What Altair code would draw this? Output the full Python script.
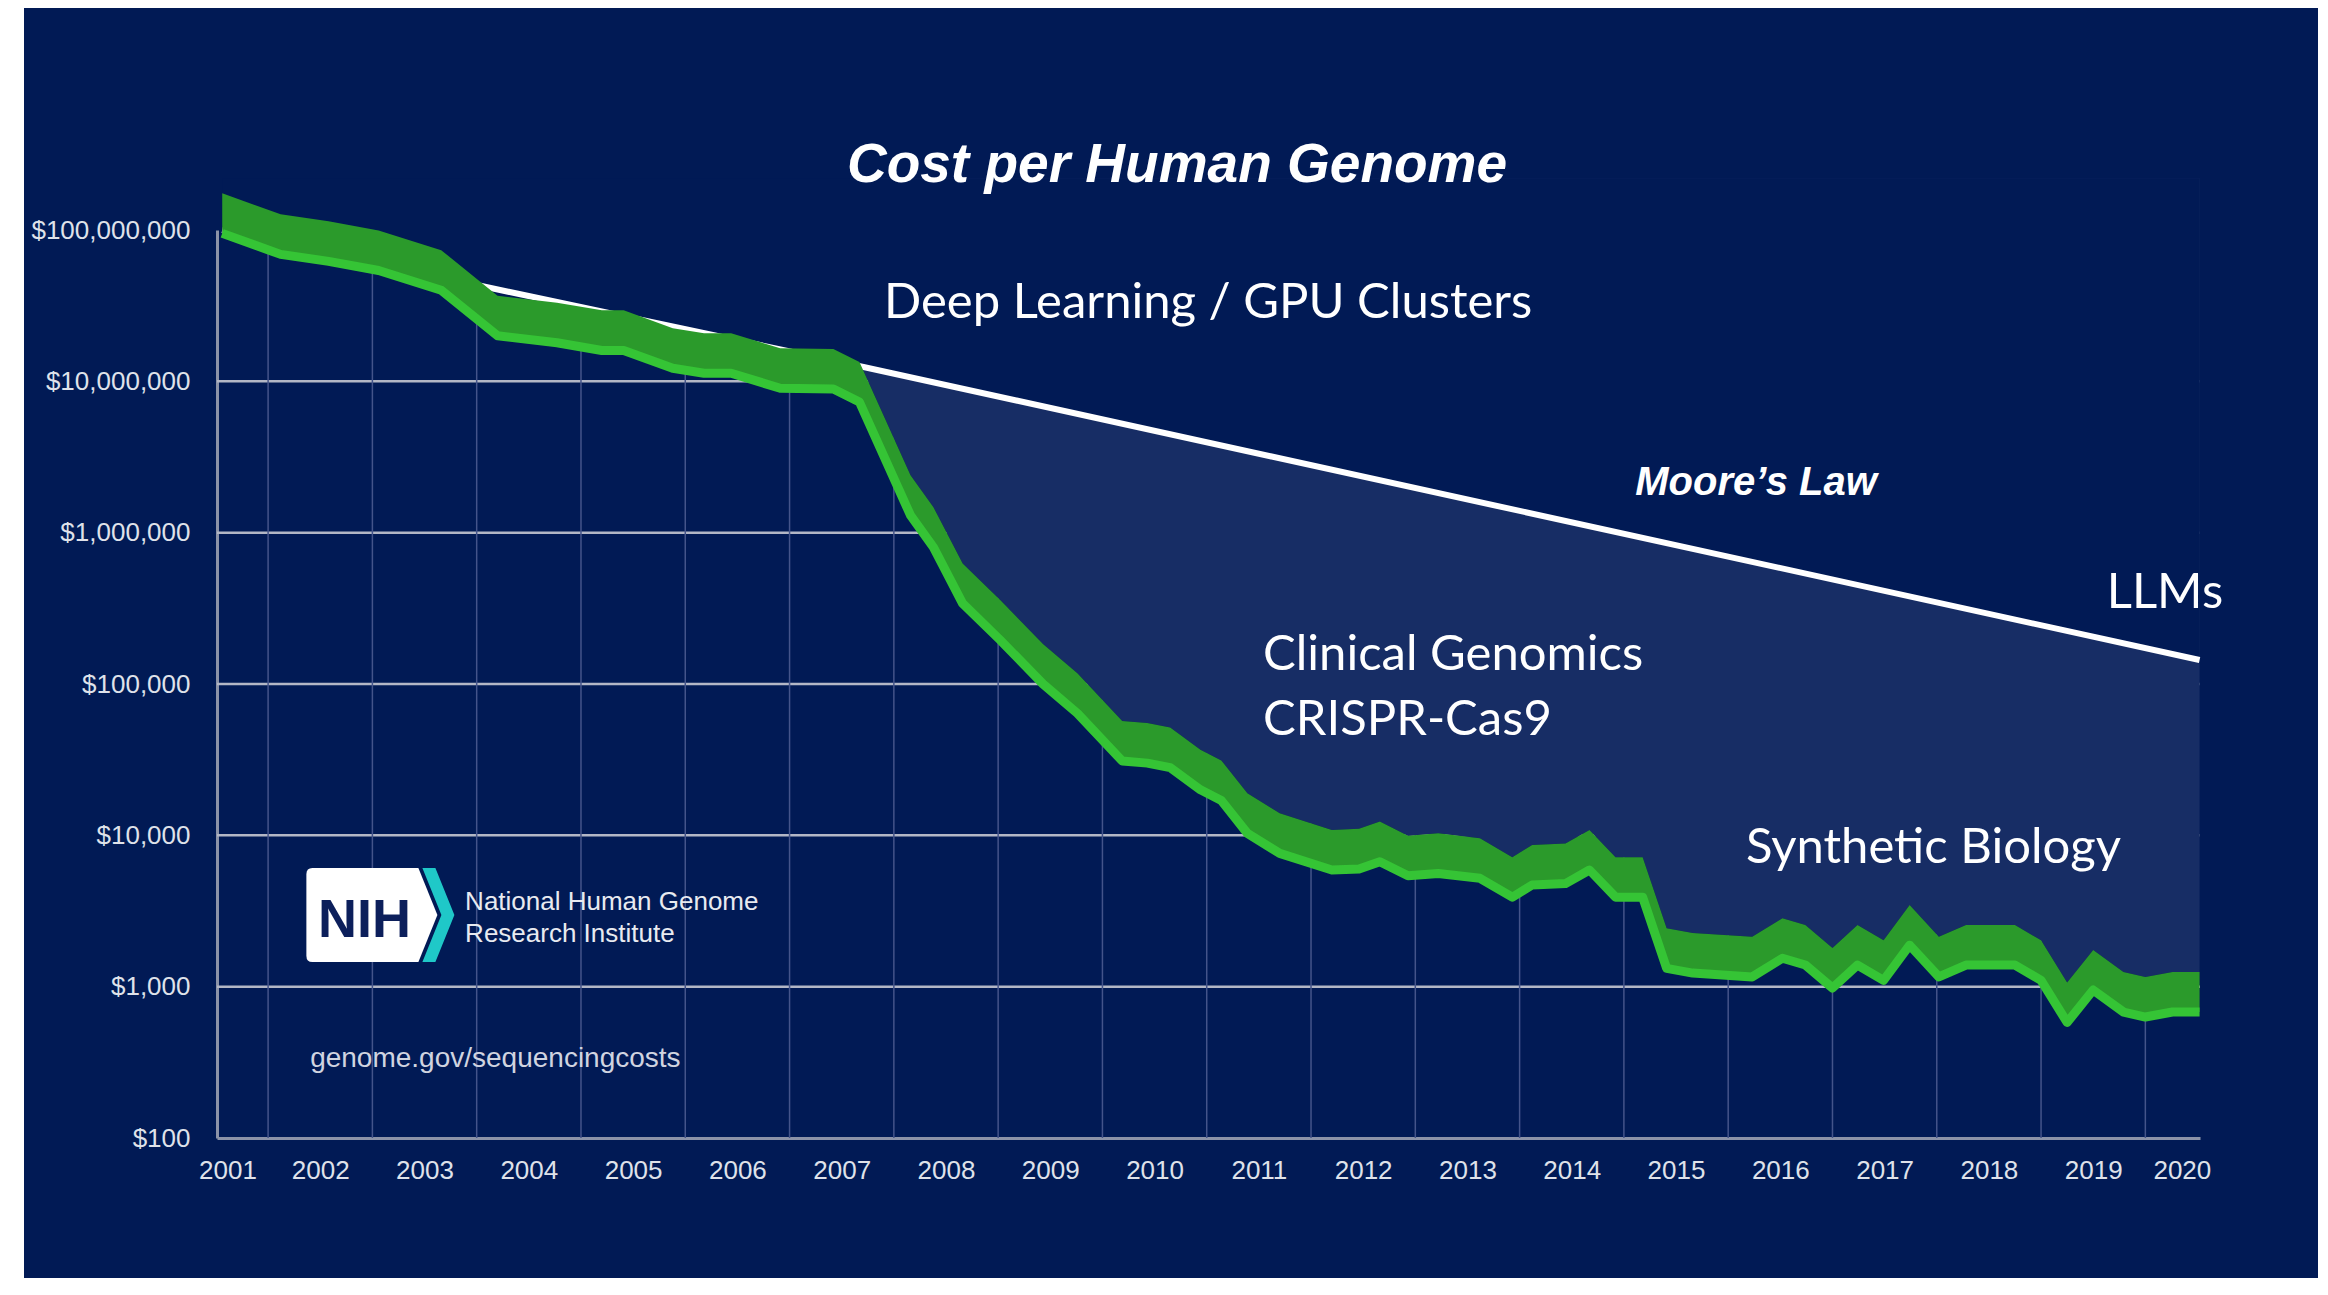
import altair as alt
import pandas as pd

# ---------------- data ----------------
year = [2001.56, 2002.12, 2002.58, 2003.06, 2003.66, 2004.20, 2004.77, 2005.20, 2005.41,
        2005.88, 2006.18, 2006.44, 2006.91, 2007.42, 2007.67, 2008.16, 2008.38, 2008.66,
        2009.02, 2009.43, 2009.76, 2010.19, 2010.43, 2010.65, 2010.94, 2011.14, 2011.39,
        2011.70, 2012.20, 2012.46, 2012.66, 2012.93, 2013.22, 2013.62, 2013.93, 2014.12,
        2014.44, 2014.67, 2014.92, 2015.18, 2015.41, 2015.66, 2016.23, 2016.52, 2016.74,
        2017.00, 2017.24, 2017.49, 2017.74, 2018.02, 2018.28, 2018.75, 2019.00, 2019.25,
        2019.50, 2019.79, 2020.00, 2020.26, 2020.52]
cost = [9.5e7, 6.9e7, 6.2e7, 5.4e7, 4.0e7, 2.0e7, 1.8e7, 1.6e7, 1.6e7,
        1.22e7, 1.13e7, 1.13e7, 9.0e6, 8.9e6, 7.3e6, 1.3e6, 8.0e5, 3.4e5,
        1.95e5, 1.0e5, 6.4e4, 3.1e4, 3.0e4, 2.8e4, 2.0e4, 1.7e4, 1.03e4,
        7.6e3, 5.9e3, 6.0e3, 6.7e3, 5.4e3, 5.6e3, 5.2e3, 3.9e3, 4.7e3,
        4.8e3, 5.9e3, 3.9e3, 3.9e3, 1.32e3, 1.23e3, 1.16e3, 1.54e3, 1.39e3,
        980, 1.39e3, 1.1e3, 1.88e3, 1.16e3, 1.39e3, 1.39e3, 1.1e3, 580,
        950, 680, 630, 680, 680]

moore_year = [2001.56, 2004.09, 2007.72, 2020.52]
moore_cost = [1.0e8, 4.2e7, 1.24e7, 1.44e5]

y_tick_values = [100, 1000, 10000, 100000, 1000000, 10000000, 100000000]
grid_cost = [1000, 10000, 100000, 1000000, 10000000]
grid_year = list(range(2002, 2021))
label_year = list(range(2001, 2021))

# ---------------- styling ----------------
NAVY = "#011a55"
LIGHT = "#172d65"
RIB = "#2b9a2b"
EDGE = "#35c435"
AXIS = "#8c93a8"
HGRID = "#b3b7c6"
VGRID = "#44548a"
LBL = "#dfe2ea"
NARROW = "'Liberation Sans Narrow', 'Arial Narrow', 'Liberation Sans', Arial, sans-serif"
SANS = "'Liberation Sans', Arial, sans-serif"
CAL = "Lato, 'Open Sans', sans-serif"
W, H = 1983, 908
DEPTH = 1.84
CEIL = 2.2e8  # above the top of the plot, used to close the cover areas

xs = alt.Scale(domain=[2001.51, 2020.524], nice=False, zero=False)
ys = alt.Scale(type="log", domain=[100, 1e8], nice=False)

tick_pos = [2001.61] + [y + 0.5 for y in label_year[1:-1]] + [2020.35]

xaxis = alt.Axis(values=tick_pos, labelExpr="floor(datum.value)", title=None, ticks=False,
                 tickSize=0, grid=False, domainColor=AXIS, domainWidth=3, labelFont=NARROW,
                 labelFontSize=26, labelColor=LBL, labelPadding=19, labelOverlap=False,
                 labelLimit=0)
yaxis = alt.Axis(values=y_tick_values, format="$,.0f", title=None, ticks=False, tickSize=0,
                 grid=False, domainColor=AXIS, domainWidth=3, labelFont=NARROW,
                 labelFontSize=26, labelColor=LBL, labelPadding=27, labelOverlap=False,
                 labelLimit=0)


def X(f="year"):
    return alt.X(f"{f}:Q", scale=xs, axis=xaxis)


def Y(f="cost"):
    return alt.Y(f"{f}:Q", scale=ys, axis=yaxis)


main = pd.DataFrame({"year": year, "cost": cost})
moore = pd.DataFrame({"year": moore_year, "cost": moore_cost})

hgrid = alt.Chart(pd.DataFrame({"cost": grid_cost})).mark_rule(
    color=HGRID, strokeWidth=2.5).encode(y=Y())
vgrid = alt.Chart(pd.DataFrame({"year": grid_year})).mark_rule(
    color=VGRID, strokeWidth=1.5).encode(x=X())

base = alt.Chart(main).transform_calculate(top=f"datum.cost * {DEPTH}", ceil=f"{CEIL}")
cover = base.mark_area(color=NAVY, opacity=1).encode(
    x=X(), y=Y("top"), y2=alt.Y2("ceil:Q"))
light = base.transform_filter("datum.year >= 2007.6").mark_area(
    color=LIGHT, opacity=1).encode(x=X(), y=Y("top"), y2=alt.Y2("ceil:Q"))
moore_cover = alt.Chart(moore).transform_calculate(ceil=f"{CEIL}").mark_area(
    color=NAVY, opacity=1).encode(x=X(), y=Y(), y2=alt.Y2("ceil:Q"))
moore_line = alt.Chart(moore).mark_line(color="white", strokeWidth=6).encode(x=X(), y=Y())
ribbon = base.mark_area(color=RIB, opacity=1).encode(x=X(), y=Y(), y2=alt.Y2("top:Q"))
edge = alt.Chart(main).mark_line(color=EDGE, strokeWidth=9, strokeJoin="round").encode(
    x=X(), y=Y())


def note(text, x, y, **style):
    df = pd.DataFrame({"label": [text], "year": [x], "cost": [y]})
    return alt.Chart(df).mark_text(**style).encode(x=X(), y=Y(), text="label:N")


def logo_shape(path, x, y, color):
    df = pd.DataFrame({"year": [x], "cost": [y]})
    return alt.Chart(df).mark_point(shape=path, size=4, filled=True, color=color,
                                    opacity=1, strokeWidth=0).encode(x=X(), y=Y())


WHITE_PATH = "M -60 -47 L 46 -47 L 65 0 L 46 47 L -60 47 Q -66 47 -66 41 L -66 -41 Q -66 -47 -60 -47 Z"
TEAL_PATH = "M 50 -47 L 63 -47 L 82 0 L 63 47 L 50 47 L 69 0 Z"

texts = [
    note("Cost per Human Genome", 2010.715, 2.08e8, font=SANS, fontSize=55, fontWeight="bold",
         fontStyle="italic", color="white", align="center", baseline="alphabetic"),
    note("Deep Learning / GPU Clusters", 2007.906, 2.62e7, font=CAL, fontSize=49,
         color="white", align="left", baseline="alphabetic"),
    note("Moore\u2019s Law", 2016.267, 1.77e6, font=SANS, fontSize=40, fontWeight="bold",
         fontStyle="italic", color="white", align="center", baseline="alphabetic"),
    note("LLMs", 2020.188, 3.18e5, font=CAL, fontSize=49, color="white", align="center",
         baseline="alphabetic"),
    note("Clinical Genomics", 2011.54, 1.24e5, font=CAL, fontSize=49, color="white",
         align="left", baseline="alphabetic"),
    note("CRISPR-Cas9", 2011.54, 4.6e4, font=CAL, fontSize=49, color="white",
         align="left", baseline="alphabetic"),
    note("Synthetic Biology", 2016.17, 6.55e3, font=CAL, fontSize=49, color="white",
         align="left", baseline="alphabetic"),
    note("NIH", 2002.925, 2133, font=SANS, fontSize=54, fontWeight="bold", color="#0c1f5b",
         align="center", baseline="alphabetic"),
    note("National Human Genome", 2003.889, 3206, font=SANS, fontSize=26, color="#e8eaf0",
         align="left", baseline="alphabetic"),
    note("Research Institute", 2003.889, 1968, font=SANS, fontSize=26, color="#e8eaf0",
         align="left", baseline="alphabetic"),
    note("genome.gov/sequencingcosts", 2002.403, 294, font=SANS, fontSize=28,
         color="#d0d4e0", align="left", baseline="alphabetic"),
]

logo = [
    logo_shape(WHITE_PATH, 2003.0, 2970, "white"),
    logo_shape(TEAL_PATH, 2003.0, 2970, "#1fc8c8"),
]

strip = alt.Chart(pd.DataFrame({"a": [0]})).mark_rect(color="white").encode(
    x=alt.value(-209), x2=alt.value(-193), y=alt.value(-230), y2=alt.value(H + 150))

layers = [hgrid, vgrid, cover, light, moore_cover, moore_line, ribbon, edge] + logo + texts + [strip]

chart = alt.layer(*layers).properties(
    width=W, height=H, background=NAVY,
    padding={"left": 209, "top": 222, "right": 118, "bottom": 140},
    autosize=alt.AutoSizeParams(type="none"),
).configure_view(stroke=None)

chart.save("out.html", embed_options={"renderer": "svg", "actions": False})
